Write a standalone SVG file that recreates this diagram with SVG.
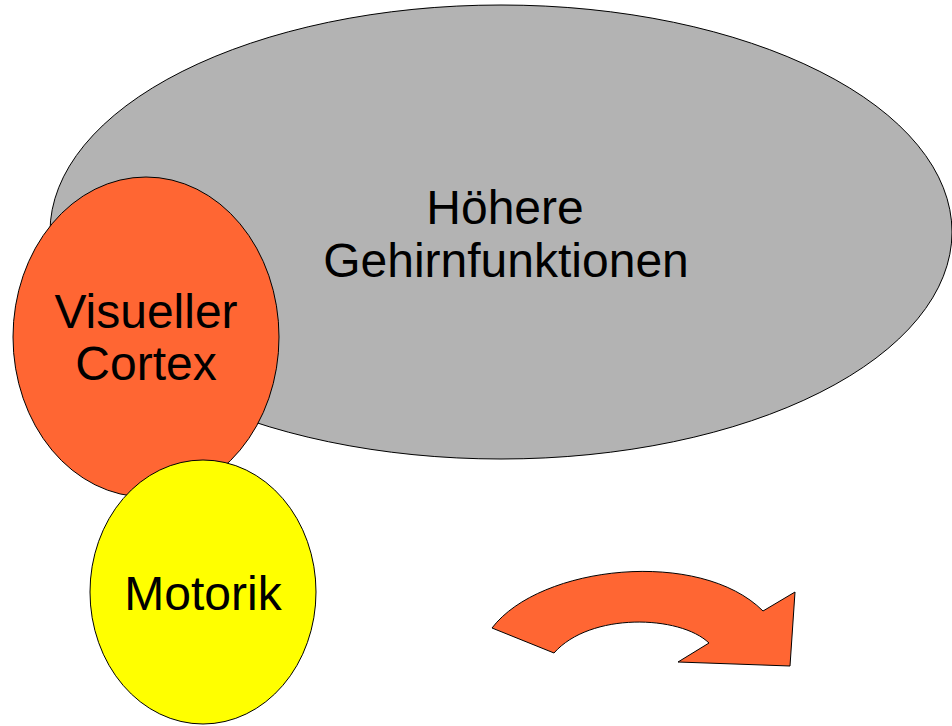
<svg xmlns="http://www.w3.org/2000/svg" width="952" height="726" viewBox="0 0 952 726">
<style>
.shape{stroke:#000;stroke-width:1}
.lbl{font-family:"Liberation Sans",Arial,sans-serif;font-size:48px;fill:#000;text-anchor:middle}
</style>
<rect width="952" height="726" fill="#fff"/>
<g id="hoehere">
<ellipse class="shape" cx="501" cy="232" rx="451" ry="227" fill="#b3b3b3"/>
<text class="lbl" x="505" y="224">Höhere</text>
<text class="lbl" x="506" y="277">Gehirnfunktionen</text>
</g>
<g id="visueller">
<ellipse class="shape" cx="146" cy="337" rx="133" ry="160" fill="#ff6633"/>
<text class="lbl" x="146" y="328">Visueller</text>
<text class="lbl" x="146" y="380">Cortex</text>
</g>
<g id="motorik">
<ellipse class="shape" cx="203" cy="592" rx="113" ry="132" fill="#ffff00"/>
<text class="lbl" x="203" y="610">Motorik</text>
</g>
<g id="connectors">
<path class="shape" fill="#ff6633" d="M492,628 C540,565 700,548 763,611 L795,592 L790,666 L678,662 L709,643 C680,615 590,612 554,653 Z"/>
</g>
</svg>
